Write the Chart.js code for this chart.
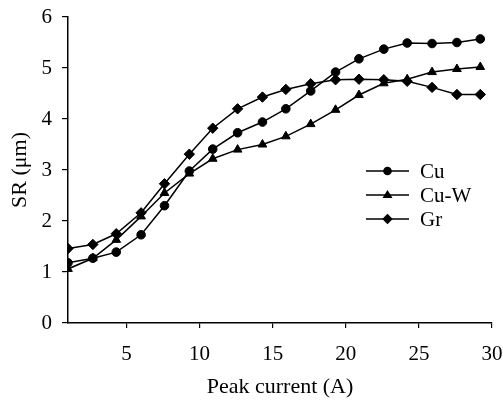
<!DOCTYPE html>
<html>
<head>
<meta charset="utf-8">
<script src="https://cdn.jsdelivr.net/npm/chart.js@4"></script>
<style>
html,body{margin:0;padding:0;background:#fff;}
#wrap{width:503px;height:400px;}
</style>
</head>
<body>
<div id="wrap"><canvas id="c" width="503" height="400"></canvas></div>
<script>
const peakCurrent = [1.0, 2.7, 4.3, 6.0, 7.6, 9.3, 10.9, 12.6, 14.3, 15.9, 17.6, 19.3, 20.9, 22.6, 24.2, 25.9, 27.6, 29.2];
const srCu  = [1.18, 1.27, 1.39, 1.73, 2.30, 2.98, 3.41, 3.73, 3.94, 4.20, 4.55, 4.92, 5.18, 5.37, 5.49, 5.48, 5.50, 5.57];
const srCuW = [1.06, 1.27, 1.63, 2.09, 2.55, 2.93, 3.22, 3.40, 3.50, 3.66, 3.90, 4.18, 4.47, 4.70, 4.78, 4.92, 4.98, 5.02];
const srGr  = [1.46, 1.54, 1.75, 2.16, 2.73, 3.31, 3.82, 4.20, 4.43, 4.58, 4.69, 4.77, 4.78, 4.77, 4.74, 4.62, 4.48, 4.48];
const seriesNames = ['Cu', 'Cu-W', 'Gr'];
const xTicks = [5, 10, 15, 20, 25, 30];
const yTicks = [0, 1, 2, 3, 4, 5, 6];

const FONT = "'Liberation Serif', 'Times New Roman', serif";
const toXY = arr => arr.map((v, i) => ({x: peakCurrent[i], y: v}));

const styles = [
  {pointStyle: 'circle', pointRadius: 4.3},
  {pointStyle: 'triangle', pointRadius: 5},
  {pointStyle: 'rectRot', pointRadius: 5.2}
];
const seriesData = [srCu, srCuW, srGr];

const datasets = seriesData.map((d, i) => ({
  label: seriesNames[i],
  data: toXY(d),
  borderColor: '#000',
  backgroundColor: '#000',
  borderWidth: 1.5,
  pointBackgroundColor: '#000',
  pointBorderColor: '#000',
  pointBorderWidth: 1,
  pointStyle: styles[i].pointStyle,
  pointRadius: styles[i].pointRadius,
  tension: 0,
  fill: false
}));

const legendPlugin = {
  id: 'inLegend',
  afterDraw(chart) {
    const ctx = chart.ctx;
    const x0 = 366, x1 = 409, tx = 420;
    const rows = [171, 195, 219];
    ctx.save();
    chart.data.datasets.forEach((ds, i) => {
      const y = rows[i];
      ctx.strokeStyle = '#000';
      ctx.lineWidth = 1.5;
      ctx.beginPath();
      ctx.moveTo(x0, y);
      ctx.lineTo(x1, y);
      ctx.stroke();
      const cx = (x0 + x1) / 2;
      const r = ds.pointRadius;
      ctx.fillStyle = '#000';
      ctx.beginPath();
      if (ds.pointStyle === 'circle') {
        ctx.arc(cx, y, r, 0, Math.PI * 2);
      } else if (ds.pointStyle === 'triangle') {
        ctx.moveTo(cx, y - r);
        ctx.lineTo(cx + r * 0.866 * 1.15, y + r * 0.5 * 1.15);
        ctx.lineTo(cx - r * 0.866 * 1.15, y + r * 0.5 * 1.15);
        ctx.closePath();
      } else {
        ctx.moveTo(cx, y - r);
        ctx.lineTo(cx + r, y);
        ctx.lineTo(cx, y + r);
        ctx.lineTo(cx - r, y);
        ctx.closePath();
      }
      ctx.fill();
      ctx.font = "21px " + FONT;
      ctx.textBaseline = 'middle';
      ctx.textAlign = 'left';
      ctx.fillText(ds.label, tx, y + 1);
    });
    ctx.restore();
  }
};

new Chart(document.getElementById('c'), {
  type: 'line',
  data: {datasets},
  options: {
    responsive: false,
    animation: false,
    devicePixelRatio: 1,
    layout: {padding: {top: 17, right: 11, left: 0, bottom: 0}},
    plugins: {legend: {display: false}, tooltip: {enabled: false}},
    scales: {
      x: {
        type: 'linear',
        min: 1,
        max: 30,
        afterBuildTicks: s => { s.ticks = xTicks.map(v => ({value: v})); },
        afterFit: s => { s.height = 77; s.paddingLeft = 0; s.paddingRight = 0; },
        grid: {drawOnChartArea: false, drawTicks: true, tickLength: 5, color: '#000', lineWidth: 1.2},
        border: {display: true, color: '#000', width: 1.5},
        ticks: {color: '#000', font: {family: FONT, size: 21}, padding: 14, maxRotation: 0},
        title: {display: true, text: 'Peak current (A)', color: '#000', font: {family: FONT, size: 22}, padding: {top: 0, bottom: 0}}
      },
      y: {
        type: 'linear',
        min: 0,
        max: 6,
        afterBuildTicks: s => { s.ticks = yTicks.map(v => ({value: v})); },
        afterFit: s => { s.width = 68; s.paddingTop = 0; s.paddingBottom = 0; },
        grid: {drawOnChartArea: false, drawTicks: true, tickLength: 6, color: '#000', lineWidth: 1.2},
        border: {display: true, color: '#000', width: 1.5},
        ticks: {color: '#000', font: {family: FONT, size: 21}, padding: 10},
        title: {display: true, text: 'SR (μm)', color: '#000', font: {family: FONT, size: 22}, padding: {top: 7, bottom: 0}}
      }
    }
  },
  plugins: [legendPlugin]
});
</script>
</body>
</html>
